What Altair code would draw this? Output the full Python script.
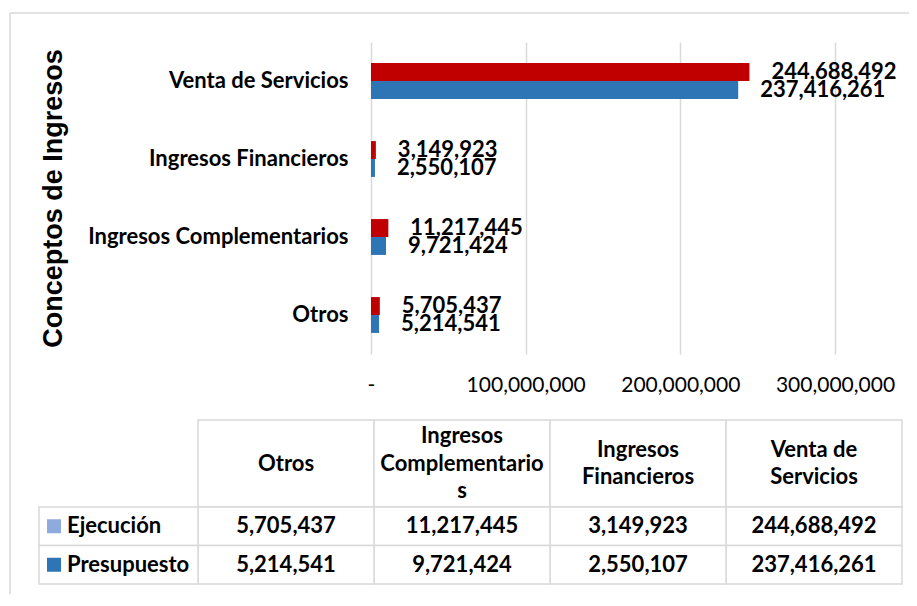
import altair as alt
import pandas as pd

# ---- data ----
categories = ["Venta de Servicios", "Ingresos Financieros", "Ingresos Complementarios", "Otros"]
ejecucion = [244688492, 3149923, 11217445, 5705437]
presupuesto = [237416261, 2550107, 9721424, 5214541]
series = ["Ejecución", "Presupuesto"]
bar_colors = ["#C00000", "#2E75B6"]
legend_colors = ["#8FAADC", "#2E75B6"]
table_columns = ["Otros", "Ingresos Complementarios", "Ingresos Financieros", "Venta de Servicios"]
table_header_lines = [["Otros"], ["Ingresos", "Complementario", "s"], ["Ingresos", "Financieros"], ["Venta de", "Servicios"]]
x_ticks = [0, 100000000, 200000000, 300000000]

rows = []
for c, e, p in zip(categories, ejecucion, presupuesto):
    rows.append({"category": c, "series": series[0], "value": e, "label": f"{e:,}"})
    rows.append({"category": c, "series": series[1], "value": p, "label": f"{p:,}"})
df = pd.DataFrame(rows)

head_rows = []
for col, lines in zip(table_columns, table_header_lines):
    n = len(lines)
    for i, t in enumerate(lines):
        head_rows.append({"column": col, "text": t, "pos": i - (n - 1) / 2})
head_text_df = pd.DataFrame(head_rows)
head_df = pd.DataFrame({"column": table_columns, "row": ["header"] * 4})
leg_df = pd.DataFrame({"series": series, "legcol": ["legend"] * 2})

GRID = "#d9d9d9"
FONT = "Lato"

# ---- bar chart ----
x_axis = alt.Axis(values=x_ticks, labelExpr="datum.value == 0 ? '-' : format(datum.value, ',')",
                  grid=True, gridColor=GRID, gridWidth=1.5, domain=False, ticks=False, tickSize=0,
                  labelPadding=31, labelBaseline="middle", labelFont=FONT, labelFontSize=21,
                  labelColor="#000000", labelOverlap=False, labelFlush=False, title=None)
y_axis = alt.Axis(title="Conceptos de Ingresos", titleFont="Liberation Sans", titleFontSize=27,
                  titleFontWeight="bold", titleColor="#000000", titleX=-310, titleY=156,
                  titleAngle=270, titleAlign="center", titleBaseline="alphabetic",
                  labelFont=FONT, labelFontSize=22, labelFontWeight="bold", labelColor="#000000",
                  labelPadding=23, labelLimit=400, ticks=False, domain=False, grid=False)
x_scale = alt.Scale(domain=[0, 300000000], nice=False, zero=True)
y_scale = alt.Scale(paddingInner=0.54, paddingOuter=0.27)

bars = alt.Chart(df).mark_bar().encode(
    x=alt.X("value:Q", scale=x_scale, axis=x_axis),
    y=alt.Y("category:N", sort=categories, scale=y_scale, axis=y_axis),
    yOffset=alt.YOffset("series:N", sort=series),
    color=alt.Color("series:N", scale=alt.Scale(domain=series, range=bar_colors), legend=None),
)
bar_labels = alt.Chart(df).mark_text(align="left", baseline="middle", dx=22, font=FONT,
                                     fontSize=22, fontWeight="bold", color="#000000").encode(
    x=alt.X("value:Q", scale=x_scale, axis=x_axis),
    y=alt.Y("category:N", sort=categories, scale=y_scale, axis=y_axis),
    yOffset=alt.YOffset("series:N", sort=series),
    text="label:N",
)
bar_layer = alt.layer(bars, bar_labels)

# ---- data table under the chart ----
tx = alt.Scale(domain=table_columns, range=[-173, 531], paddingInner=0, paddingOuter=0)
tx_leg = alt.Scale(domain=["legend"], range=[-332, -173], paddingInner=0, paddingOuter=0)
ty_head = alt.Scale(domain=["header"], range=[378, 465], paddingInner=0, paddingOuter=0)
ty_head_lines = alt.Scale(domain=[-1.611, 1.611], range=[378, 465], nice=False, zero=False)
ty_body = alt.Scale(domain=series, range=[465, 542], paddingInner=0, paddingOuter=0)
cell_style = dict(fill="white", stroke=GRID, strokeWidth=1.5)
text_style = dict(font=FONT, fontSize=22, fontWeight="bold", color="#000000", baseline="middle")

head_cells = alt.Chart(head_df).mark_rect(**cell_style).encode(
    x=alt.X("column:N", scale=tx, axis=None), y=alt.Y("row:N", scale=ty_head, axis=None))
head_text = alt.Chart(head_text_df).mark_text(align="center", **text_style).encode(
    x=alt.X("column:N", scale=tx, axis=None),
    y=alt.Y("pos:Q", scale=ty_head_lines, axis=None), text="text:N")
head_layer = alt.layer(head_cells, head_text).resolve_scale(y="independent")

body_cells = alt.Chart(df).mark_rect(**cell_style).encode(
    x=alt.X("category:N", scale=tx, axis=None), y=alt.Y("series:N", scale=ty_body, axis=None))
body_text = alt.Chart(df).mark_text(align="center", **text_style).encode(
    x=alt.X("category:N", scale=tx, axis=None), y=alt.Y("series:N", scale=ty_body, axis=None),
    text="label:N")
body_layer = alt.layer(body_cells, body_text)

leg_cells = alt.Chart(leg_df).mark_rect(**cell_style).encode(
    x=alt.X("legcol:N", scale=tx_leg, axis=None), y=alt.Y("series:N", scale=ty_body, axis=None))
leg_marks = alt.Chart(leg_df).mark_square(size=196, xOffset=15, opacity=1, filled=True).encode(
    x=alt.X("legcol:N", scale=tx_leg, axis=None, bandPosition=0),
    y=alt.Y("series:N", scale=ty_body, axis=None),
    color=alt.Color("series:N", scale=alt.Scale(domain=series, range=legend_colors), legend=None))
leg_text = alt.Chart(leg_df).mark_text(align="left", dx=28, **text_style).encode(
    x=alt.X("legcol:N", scale=tx_leg, axis=None, bandPosition=0),
    y=alt.Y("series:N", scale=ty_body, axis=None), text="series:N")
leg_layer = alt.layer(leg_cells, leg_marks, leg_text)

# outer chart-area frame (only its left and top edges fall inside the picture)
one = pd.DataFrame({"k": [0]})
frame_left = alt.Chart(one).mark_rule(color=GRID, strokeWidth=1.5).encode(
    x=alt.value(-361), y=alt.value(-29), y2=alt.value(560))
frame_top = alt.Chart(one).mark_rule(color=GRID, strokeWidth=1.5).encode(
    x=alt.value(-361), x2=alt.value(545), y=alt.value(-29))

chart = alt.layer(frame_left, frame_top, bar_layer, head_layer, body_layer, leg_layer).resolve_scale(
    x="independent", y="independent", color="independent", yOffset="independent"
).properties(
    width=464, height=312,
    autosize=alt.AutoSizeParams(type="none"),
    padding={"left": 363, "top": 34, "right": 74, "bottom": 240},
    background="white",
).configure_view(stroke="transparent")

chart.save("out.html", embed_options={"renderer": "svg", "actions": False})
